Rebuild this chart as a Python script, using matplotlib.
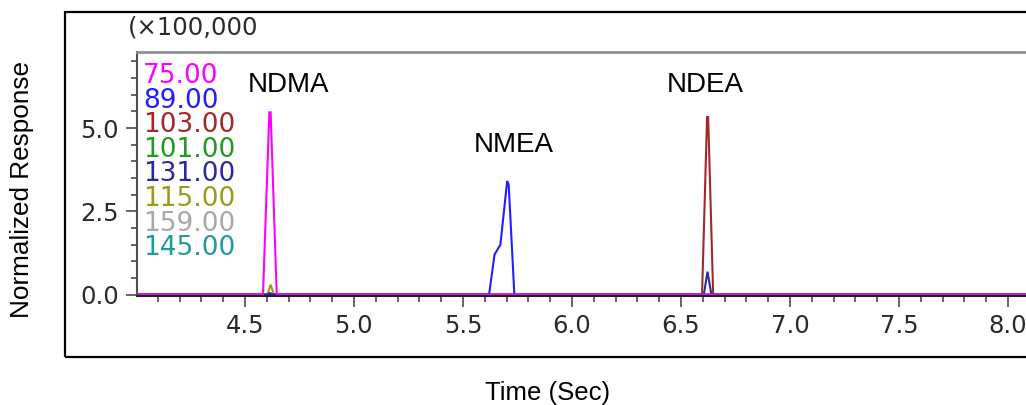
import matplotlib.pyplot as plt
from matplotlib.patches import Rectangle
from matplotlib.ticker import MultipleLocator, FormatStrFormatter

# Chromatogram traces (time in min, response in x100,000)
mz_labels = ["75.00", "89.00", "103.00", "101.00", "131.00", "115.00", "159.00", "145.00"]
mz_colors = ["#ff00ff", "#1f1fff", "#a02828", "#209a20", "#2a2a9a", "#9a9a20", "#a8a8a8", "#209a9a"]

t_75 = [4.0, 4.583, 4.612, 4.618, 4.646, 8.1]
y_75 = [0.0, 0.0, 5.47, 5.47, 0.0, 0.0]

t_89 = [4.0, 5.62, 5.645, 5.672, 5.703, 5.71, 5.736, 8.1]
y_89 = [0.0, 0.0, 1.2, 1.5, 3.41, 3.3, 0.0, 0.0]

t_103 = [4.0, 6.597, 6.620, 6.625, 6.648, 8.1]
y_103 = [0.0, 0.0, 5.33, 5.33, 0.0, 0.0]

t_101 = [4.0, 8.1]
y_101 = [0.0, 0.0]

t_131 = [4.0, 4.6, 4.615, 4.63, 6.605, 6.622, 6.64, 8.1]
y_131 = [0.0, 0.0, 0.05, 0.0, 0.0, 0.69, 0.0, 0.0]

t_115 = [4.0, 4.603, 4.618, 4.633, 8.1]
y_115 = [0.0, 0.0, 0.3, 0.0, 0.0]

t_159 = [4.0, 8.1]
y_159 = [0.0, 0.0]

t_145 = [4.0, 8.1]
y_145 = [0.0, 0.0]

peak_names = ["NDMA", "NMEA", "NDEA"]
peak_x = [4.70, 5.735, 6.61]
peak_y = [6.29, 4.49, 6.29]

fig = plt.figure(figsize=(10.26, 4.05), dpi=100)

# outer frame (right side runs off the image)
fig.patches.append(Rectangle((65 / 1026, 48 / 405), 1.2, 345 / 405,
                             transform=fig.transFigure, fill=False,
                             edgecolor="black", linewidth=1.6))

ax = fig.add_axes([137 / 1026, 109 / 405, 1 - 137 / 1026, 244 / 405])

traces = [(t_75, y_75), (t_89, y_89), (t_103, y_103), (t_101, y_101),
          (t_131, y_131), (t_115, y_115), (t_159, y_159), (t_145, y_145)]
# draw the small traces first, magenta on top
order = [6, 7, 3, 5, 4, 2, 1, 0]
for i in order:
    t, y = traces[i]
    ax.plot(t, y, color=mz_colors[i], linewidth=1.5, solid_joinstyle="miter")

ax.set_xlim(4.005, 8.083)
ax.set_ylim(-0.04, 7.28)

ax.xaxis.set_major_locator(MultipleLocator(0.5))
ax.xaxis.set_minor_locator(MultipleLocator(0.1))
ax.yaxis.set_major_locator(MultipleLocator(2.5))
ax.yaxis.set_minor_locator(MultipleLocator(0.5))
ax.xaxis.set_major_formatter(FormatStrFormatter("%.1f"))
ax.yaxis.set_major_formatter(FormatStrFormatter("%.1f"))

tick_col = "#3a3a3a"
ax.tick_params(which="major", direction="out", length=8, width=1.1, color=tick_col,
               labelsize=17.5, labelcolor="#2a2a2a", pad=5)
ax.tick_params(which="minor", direction="out", length=4.3, width=1.1, color=tick_col)

ax.spines["right"].set_visible(False)
ax.spines["top"].set_color("#909090")
ax.spines["top"].set_linewidth(2.0)
ax.spines["left"].set_color("#505050")
ax.spines["left"].set_linewidth(1.5)
ax.spines["bottom"].set_color("#202020")
ax.spines["bottom"].set_linewidth(1.5)

# m/z legend
for i, lab in enumerate(mz_labels):
    ax.text(0.007, 0.873 - i * 0.1008, lab, transform=ax.transAxes,
            color=mz_colors[i], fontsize=19, va="baseline", ha="left")

for name, x, y in zip(peak_names, peak_x, peak_y):
    ax.text(x, y, name, fontsize=20, family="Liberation Sans",
            ha="center", va="center", color="black")

fig.text(128 / 1026, 377 / 405, "(\u00d7100,000", fontsize=17.5, color="#2a2a2a",
         ha="left", va="center")

fig.text(22 / 1026, 215 / 405, "Normalized Response", rotation=90, fontsize=18.8,
         family="Liberation Sans", ha="center", va="center")
fig.text(548 / 1026, 12 / 405, "Time (Sec)", fontsize=18.5,
         family="Liberation Sans", ha="center", va="center")

fig.savefig("out.png", dpi=100)
